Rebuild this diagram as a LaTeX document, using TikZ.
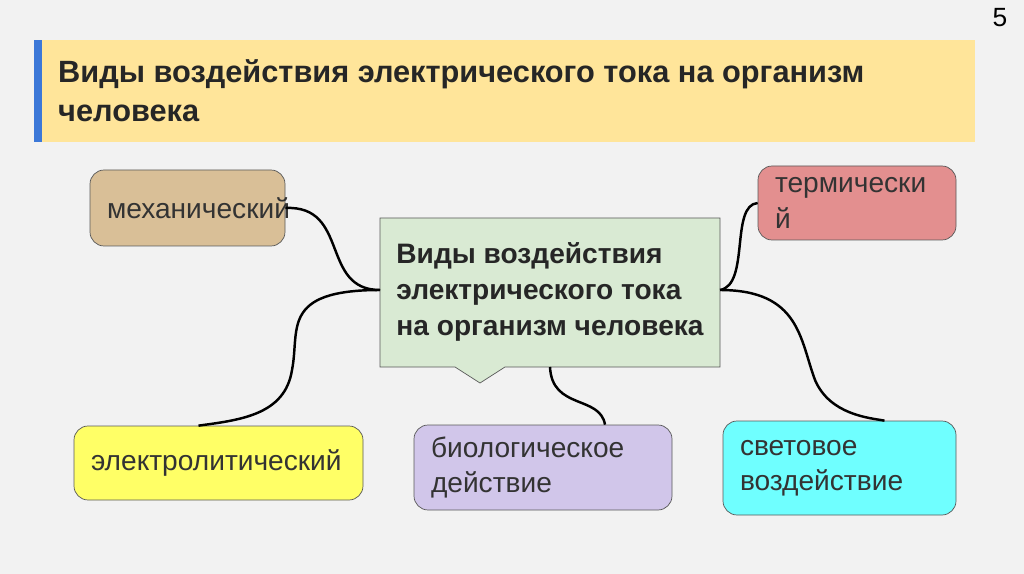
\documentclass[tikz,border=0pt]{standalone}
\usepackage{fontspec}
\setmainfont{Liberation Sans}
\usetikzlibrary{calc}

\definecolor{slidebg}{HTML}{F2F2F2}
\definecolor{titlebg}{HTML}{FFE59A}
\definecolor{barblue}{HTML}{3C78D8}
\definecolor{mechfill}{HTML}{D9BF97}
\definecolor{thermfill}{HTML}{E38F8F}
\definecolor{centerfill}{HTML}{D9EAD3}
\definecolor{elfill}{HTML}{FFFF66}
\definecolor{biofill}{HTML}{D1C6EA}
\definecolor{lightfill}{HTML}{6FFFFF}
\definecolor{boxline}{HTML}{595959}

\begin{document}
\begin{tikzpicture}[
    x=0.02cm, y=-0.02cm,
    leaf/.style={draw=boxline, rounded corners=8pt, align=left, inner xsep=0.34cm, inner ysep=0pt,
                 font=\fontsize{16}{20}\selectfont, text=black!80},
    link/.style={line width=1.4pt, black}
]
\useasboundingbox (0,0) rectangle (1024,574);
\fill[slidebg] (0,0) rectangle (1024,574);

% title band
\fill[titlebg] (34,40) rectangle (975,142);
\fill[barblue] (34,40) rectangle (42,142);
\node[anchor=west, align=left, font=\bfseries\fontsize{17.5}{22}\selectfont, text=black!85] (title) at (52,91)
  {Виды воздействия электрического тока на организм\\человека};
\node[font=\fontsize{15}{16}\selectfont] (page) at (1000,18) {5};

% central callout
\draw[boxline, fill=centerfill] (380,218) -- (720,218) -- (720,367) -- (505,367) -- (480,383)
  -- (455,367) -- (380,367) -- cycle;
\node[align=left, font=\bfseries\fontsize{16}{20.5}\selectfont, text=black!85] (center) at (550,292)
  {Виды воздействия\\электрического тока\\на организм человека};
\coordinate (cl) at (380,290);
\coordinate (cr) at (720,290);
\coordinate (cb) at (550,367);

% leaves
\node[leaf, fill=mechfill, text width=161*0.02cm, minimum height=76*0.02cm] (mech) at (187.5,208) {механический};
\node[leaf, fill=thermfill, text width=164*0.02cm, minimum height=74*0.02cm] (therm) at (857,203) {термически\\й};
\node[leaf, fill=elfill, text width=255*0.02cm, minimum height=74*0.02cm] (electro) at (218.5,463) {электролитический};
\node[leaf, fill=biofill, text width=224*0.02cm, minimum height=85*0.02cm] (bio) at (543,467.5) {биологическое\\действие};
\node[leaf, fill=lightfill, text width=199*0.02cm, minimum height=94*0.02cm] (light) at (839.5,468) {световое\\воздействие};

% connectors
\draw[link] (mech.east) .. controls (350,205) and (320,290) .. (cl);
\draw[link] (cl) .. controls (280,290) and (300,330) .. (292,370)
  .. controls (285,415) and (240,420) .. ($(electro.north)+(-20,0)$);
\draw[link] (therm.west) .. controls (730,205) and (750,285) .. (cr);
\draw[link] (cr) .. controls (800,290) and (800,340) .. (815,380)
  .. controls (830,415) and (870,418) .. ($(light.north)+(45,0)$);
\draw[link] (cb) .. controls (552,410) and (600,395) .. ($(bio.north)+(62,0)$);
\end{tikzpicture}
\end{document}
